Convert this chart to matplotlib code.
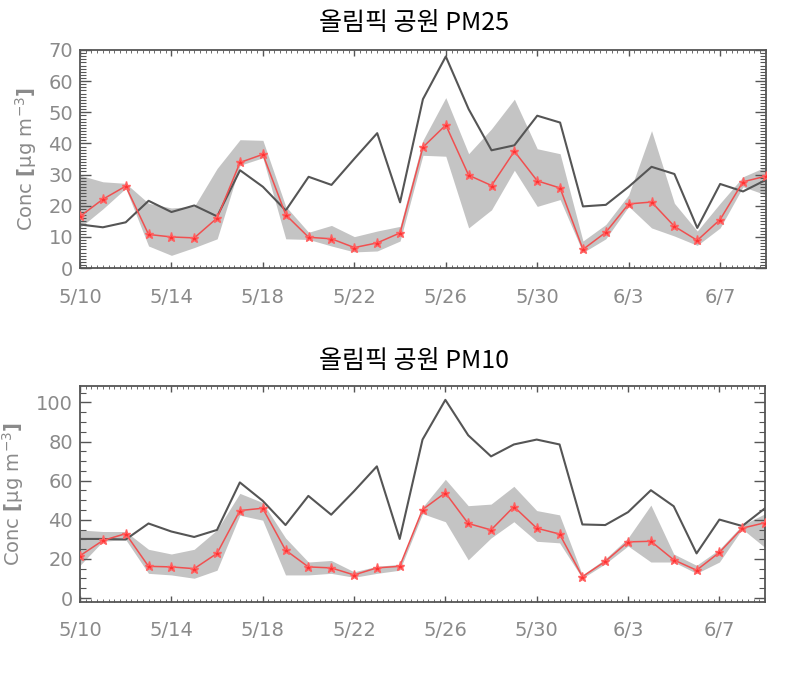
import numpy as np
import matplotlib
matplotlib.use('Agg')
import matplotlib.pyplot as plt
from matplotlib.ticker import MultipleLocator, FixedLocator

plt.rcParams['font.family'] = ['DejaVu Sans']
plt.rcParams['mathtext.default'] = 'regular'

# days since 5/10 (5/10 .. 6/9)
days = np.arange(31)
tick_days = [0, 4, 8, 12, 16, 20, 24, 28]
tick_labels = ['5/10', '5/14', '5/18', '5/22', '5/26', '5/30', '6/3', '6/7']

# PM2.5 - observed, model, ensemble range
pm25_obs = [14.0, 13.1, 14.7, 21.6, 18.0, 20.1, 16.6, 31.4, 26.1, 18.5,
            29.3, 26.7, 35.1, 43.3, 21.1, 54.2, 67.9, 51.0, 37.8, 39.4,
            48.9, 46.7, 19.8, 20.3, 26.1, 32.5, 30.2, 12.9, 27.0, 24.6, 28.3]
pm25_mod = [16.6, 22.1, 26.3, 10.8, 10.0, 9.7, 16.1, 33.9, 36.5, 17.1,
            9.9, 9.4, 6.6, 8.1, 11.3, 38.8, 45.9, 29.8, 26.5, 37.5,
            28.0, 25.7, 6.0, 11.5, 20.6, 21.2, 13.4, 8.9, 15.6, 27.7, 29.5]
pm25_hi = [29.8, 27.7, 27.2, 20.8, 19.3, 19.8, 32.0, 41.2, 41.0, 19.8,
           11.5, 13.7, 10.1, 11.9, 13.4, 41.0, 54.7, 36.7, 44.7, 54.2,
           38.3, 36.7, 8.7, 14.0, 23.5, 44.1, 20.8, 11.9, 20.8, 29.3, 32.5]
pm25_lo = [13.0, 19.0, 25.6, 7.1, 4.1, 6.6, 9.4, 33.0, 35.4, 9.4,
           9.2, 7.1, 5.2, 5.5, 8.7, 36.2, 35.9, 12.9, 18.7, 31.4,
           19.8, 22.0, 5.0, 9.4, 19.8, 12.9, 10.3, 7.3, 12.9, 26.1, 23.5]

# PM10
pm10_obs = [30.2, 30.2, 29.9, 38.1, 34.0, 31.2, 34.8, 59.1, 49.7, 37.3,
            52.2, 42.6, 54.6, 67.3, 30.2, 81.0, 101.3, 83.2, 72.4, 78.5,
            81.0, 78.5, 37.6, 37.3, 43.9, 55.1, 46.9, 22.8, 40.1, 36.8, 45.9]
pm10_mod = [21.6, 29.4, 32.9, 16.2, 15.9, 15.0, 22.8, 44.7, 45.9, 24.5,
            15.9, 15.4, 11.8, 15.4, 16.2, 45.2, 53.8, 38.1, 34.8, 46.7,
            35.7, 32.7, 10.9, 18.7, 28.7, 29.0, 19.5, 14.2, 23.3, 35.7, 38.5]
pm10_hi = [34.8, 34.0, 34.0, 24.9, 22.5, 24.9, 34.8, 53.5, 48.8, 30.7,
           18.4, 19.2, 13.4, 16.2, 17.2, 46.4, 60.7, 47.2, 48.0, 57.1,
           44.7, 42.5, 11.8, 20.0, 30.7, 47.5, 22.5, 16.7, 24.9, 37.3, 43.1]
pm10_lo = [16.7, 29.0, 29.9, 12.6, 11.8, 10.1, 14.2, 42.3, 39.8, 11.8,
           11.8, 12.6, 10.6, 12.6, 14.2, 43.1, 39.0, 19.5, 30.7, 39.0,
           29.0, 28.2, 10.1, 17.5, 26.6, 18.4, 18.4, 12.6, 18.4, 35.3, 25.8]

fig = plt.figure(figsize=(7.92, 6.84), dpi=100)

panels = [
    ('올림픽 공원 PM25', [0.101, 0.608, 0.866, 0.319], pm25_obs, pm25_mod, pm25_hi, pm25_lo,
     (0, 70), 10, 1, 0.967),
    ('올림픽 공원 PM10', [0.101, 0.120, 0.865, 0.316], pm10_obs, pm10_mod, pm10_hi, pm10_lo,
     (-2, 108.5), 20, 5, 0.472),
]

gray_txt = '#8a8a8a'
for title, rect, obs, mod, hi, lo, ylim, ymaj, ymin, ty in panels:
    ax = fig.add_axes(rect)
    ax.fill_between(days, lo, hi, color='#c4c4c4', linewidth=0, zorder=1)
    ax.plot(days, obs, color='#555555', lw=1.5, zorder=2)
    ax.plot(days, mod, color='#f05050', lw=1.1, marker='*', ms=6.5,
            mfc='#ff3030', mec='#ff6060', zorder=3)
    ax.set_xlim(0, 30)

    ax.xaxis.set_major_locator(FixedLocator(tick_days))
    ax.set_xticklabels(tick_labels)
    ax.xaxis.set_minor_locator(MultipleLocator(0.25))
    ax.yaxis.set_major_locator(MultipleLocator(ymaj))
    ax.yaxis.set_minor_locator(MultipleLocator(ymin))
    ax.set_ylim(*ylim)

    ax.tick_params(which='both', direction='in', top=True, right=True,
                   color='#555555', labelcolor=gray_txt, labelsize=14)
    ax.tick_params(axis='y', which='major', length=8, width=1, pad=5)
    ax.tick_params(axis='y', which='minor', length=4, width=0.8)
    ax.tick_params(axis='x', which='major', length=4, width=1, pad=14)
    ax.tick_params(axis='x', which='minor', length=2, width=0.6)
    for s in ax.spines.values():
        s.set_color('#555555')
        s.set_linewidth(1.3)

    ax.set_ylabel(r'Conc $\mathbf{[}\mu g\ m^{-3}\mathbf{]}$', color=gray_txt,
                  fontsize=14, labelpad=7)
    fig.text(0.523, ty, title, ha='center', va='center', fontsize=18,
             family=['Noto Sans CJK KR', 'DejaVu Sans'], color='black')

fig.savefig('out.png', dpi=100)
